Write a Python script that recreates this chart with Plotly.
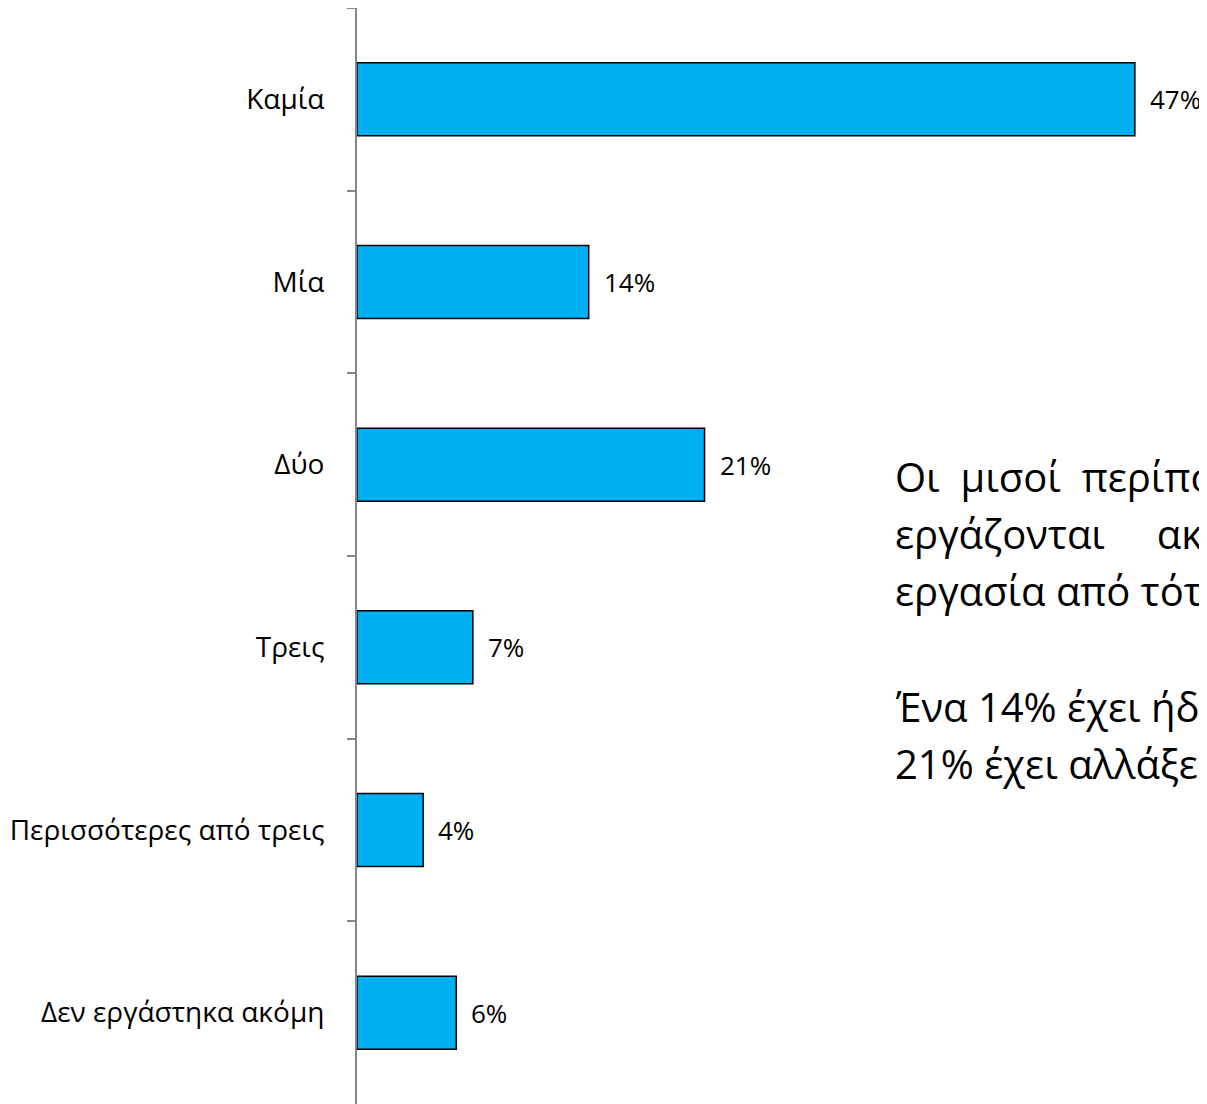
import plotly.graph_objects as go

categories = ["Καμία", "Μία", "Δύο", "Τρεις", "Περισσότερες από τρεις", "Δεν εργάστηκα ακόμη"]
values = [47, 14, 21, 7, 4, 6]
labels = ["47%", "14%", "21%", "7%", "4%", "6%"]

note_lines = [
    "Οι&nbsp;&nbsp;μισοί&nbsp;&nbsp;περίπου",
    "εργάζονται&nbsp;&nbsp;&nbsp;&nbsp;&nbsp;ακόμη",
    "εργασία από τότε",
    "Ένα 14% έχει ήδη",
    "21% έχει αλλάξει",
]
note_centers_px = [476, 533, 590, 706, 763]

FONT = "Open Sans"
W, H = 1199, 1096   # page body has an 8px margin
PLOT_TOP = 8

fig = go.Figure()
fig.add_trace(go.Bar(
    y=categories, x=values, orientation="h",
    marker=dict(color="#00B0F0", line=dict(color="black", width=1.5)),
    width=0.4,
))

for c, v, t in zip(categories, values, labels):
    fig.add_annotation(x=v, y=c, text=t, showarrow=False, xanchor="left",
                       xshift=13, font=dict(size=26, color="black", family=FONT))

for line, py in zip(note_lines, note_centers_px):
    fig.add_annotation(xref="paper", yref="paper", x=0.630, y=1 - (py - PLOT_TOP) / H,
                       text=line, showarrow=False, xanchor="left", yanchor="middle",
                       font=dict(size=40, color="black", family=FONT))

fig.update_layout(
    width=W, height=H,
    margin=dict(l=349, r=0, t=0, b=0),
    plot_bgcolor="white", paper_bgcolor="white",
    showlegend=False,
    xaxis=dict(range=[0, 51.36], showgrid=False, zeroline=False, showticklabels=False,
               showline=False, ticks=""),
    yaxis=dict(categoryorder="array", categoryarray=categories, autorange="reversed",
               showgrid=False, showline=True, linecolor="#868686", linewidth=2,
               ticks="outside", tickson="boundaries", ticklen=8, tickcolor="#868686",
               tickwidth=2, ticklabelstandoff=25,
               tickfont=dict(size=28, color="black", family=FONT)),
)

fig.write_html("out.html", config={"responsive": False})
